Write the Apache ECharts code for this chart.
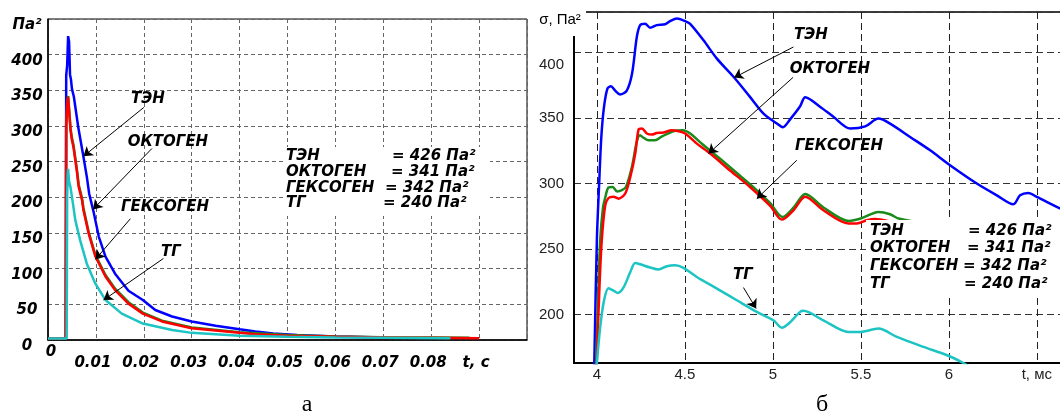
<!DOCTYPE html>
<html>
<head>
<meta charset="utf-8">
<title>σ(t)</title>
<script src="https://cdn.jsdelivr.net/npm/echarts@6.0.0/dist/echarts.min.js"></script>
<style>
  html, body { margin: 0; padding: 0; background: #fff; }
  #chart { width: 1060px; height: 416px; }
</style>
</head>
<body>
<div id="chart"></div>
<script>
// ---- панель "а": t, с / Па² ----
const tenA = [[0,2],[0.0037,2],[0.0038,371],[0.004,385],[0.0042,426],[0.0044,418],[0.0046,372],[0.0048,365],[0.005,352],[0.0054,341],[0.0063,299],[0.0074,257],[0.0081,229],[0.0086,205],[0.0095,180],[0.0106,145],[0.012,117],[0.014,93],[0.0168,69],[0.0198,56],[0.0224,42],[0.0259,33],[0.03,26],[0.035,20],[0.04,15],[0.0433,12],[0.047,9],[0.052,7],[0.06,5],[0.068,4]];
const oktogenA = [[0,2],[0.0037,2],[0.0038,300],[0.004,330],[0.0042,341],[0.0044,322],[0.0047,294],[0.005,280],[0.0053,271],[0.006,238],[0.0064,215],[0.0071,196],[0.0074,182],[0.0085,149],[0.0099,117],[0.012,89],[0.014,70],[0.0168,51],[0.0198,37],[0.0238,26],[0.03,16.5],[0.04,10],[0.0433,8],[0.05,6],[0.06,4.5],[0.07,3.5],[0.08,3],[0.09,2.5]];
const geksogenA = [[0,2],[0.0037,2],[0.0038,302],[0.004,332],[0.0042,342],[0.0044,324],[0.0047,297],[0.005,283],[0.0053,274],[0.006,241],[0.0064,218],[0.0071,199],[0.0074,185],[0.0085,151],[0.0099,119],[0.012,91],[0.014,72],[0.0168,53],[0.0198,38.5],[0.0238,27],[0.03,17.5],[0.04,11],[0.05,7],[0.06,5],[0.07,4],[0.08,3.5],[0.088,3]];
const tgA = [[0,2],[0.0039,2],[0.004,200],[0.0041,232],[0.0042,240],[0.0044,222],[0.0047,214],[0.0053,187],[0.0057,168],[0.0067,140],[0.0081,107],[0.0099,79],[0.012,56],[0.0154,37],[0.0198,23],[0.0259,14],[0.03,10],[0.04,6],[0.05,4.5],[0.06,3.5],[0.07,3],[0.084,2.5]];
const xLabelsA = ['0','0.01','0.02','0.03','0.04','0.05','0.06','0.07','0.08','t, с',''];
const yLabelsA = ['0','50','100','150','200','250','300','350','400','Па²'];

// ---- панель "б": t, мс / σ, Па² ----
const tenB = [[3.985,160],[4.0,257],[4.013,300],[4.025,335],[4.04,358],[4.06,372.5],[4.08,374.3],[4.104,371],[4.132,368],[4.17,371],[4.2,384],[4.227,412],[4.246,421],[4.274,422],[4.303,419],[4.34,421],[4.388,421.6],[4.416,424],[4.455,426],[4.502,424],[4.53,422],[4.606,409.4],[4.682,395.4],[4.78,381],[4.871,366],[4.947,353.4],[5.023,345.8],[5.057,343],[5.098,349],[5.155,359],[5.184,366],[5.27,358.5],[5.344,351],[5.44,342],[5.525,343.7],[5.6,349.6],[5.666,345.8],[5.78,335.6],[5.894,325.4],[6.007,314],[6.159,300],[6.273,291],[6.367,284.2],[6.405,291],[6.452,292.8],[6.5,289.8],[6.632,281],[6.7,277]];
const oktogenB = [[3.998,160],[4.015,222],[4.028,257],[4.047,283],[4.066,289],[4.094,290],[4.123,288.5],[4.161,292.4],[4.19,305],[4.218,323],[4.237,341.2],[4.256,342],[4.284,338.2],[4.313,337.4],[4.34,338.6],[4.378,339],[4.426,340.7],[4.464,340],[4.502,338.2],[4.568,330.5],[4.644,322.9],[4.757,310],[4.87,297.4],[4.985,283],[5.051,272.5],[5.117,279.6],[5.184,290],[5.287,279.6],[5.43,269.5],[5.477,269.5],[5.534,272],[5.58,273],[5.7,270],[5.9,266],[6.2,262],[6.5,259],[6.7,257]];
const geksogenB = [[3.995,160],[4.01,225],[4.019,257],[4.035,282],[4.047,289],[4.066,297],[4.09,297.4],[4.115,294],[4.142,295],[4.165,297.4],[4.199,312.7],[4.227,332],[4.245,336.9],[4.265,335],[4.293,333],[4.33,333],[4.37,336],[4.435,340],[4.49,340.7],[4.53,338.2],[4.6,330],[4.7,319],[4.8,307.5],[4.9,296],[4.985,285],[5.055,274.5],[5.12,282],[5.184,292],[5.29,281.5],[5.43,271.5],[5.5,273.3],[5.6,278.3],[5.666,276.6],[5.714,273.3],[5.9,269],[6.2,265],[6.5,263],[6.7,261]];
const tgB = [[3.998,160],[4.019,190.5],[4.041,211],[4.066,220],[4.09,218.6],[4.117,216.5],[4.151,220.6],[4.19,232.5],[4.218,239.4],[4.246,238.4],[4.303,235.9],[4.35,234.4],[4.398,236.9],[4.445,237.6],[4.492,235.6],[4.568,228.7],[4.682,219.8],[4.795,210.9],[4.909,202],[5.003,195.6],[5.051,190],[5.089,193],[5.155,202],[5.174,202.8],[5.287,195.6],[5.43,186.7],[5.496,186.7],[5.6,189.3],[5.705,182.9],[5.856,175.3],[5.99,168.9],[6.083,163],[6.12,160]];
const xTicksB = [4, 4.5, 5, 5.5, 6, 6.5];
const xLabelsB = ['4', '4.5', '5', '5.5', '6', 't, мс'];

// подписи и стрелки (начало -> конец, в координатах данных)
const names = ['ТЭН', 'ОКТОГЕН', 'ГЕКСОГЕН', 'ТГ'];
const peaks = ['= 426 Па²', '= 341 Па²', '= 342 Па²', '= 240 Па²'];
const arrowsA = [[[0.02,326],[0.0074,257.5]], [[0.0217,268.5],[0.0094,183.1]], [[0.0172,170],[0.0099,113]], [[0.0241,114.3],[0.0116,56]]];
const arrowsB = [[[5.117,404.3],[4.78,380.9]], [[5.115,381.1],[4.634,322.9]], [[5.136,317.8],[4.909,288.5]], [[4.833,220.6],[4.905,204.6]]];

const BI = 'italic bold 15px "DejaVu Sans"';
// тот же шрифт для подписей осей (там не работает сокращённая запись font)
const biStyle = { fontStyle: 'italic', fontWeight: 'bold', fontSize: 15, fontFamily: 'DejaVu Sans', color: '#000' };
const colors = { ten: '#0000ff', okt: '#ff0000', gek: '#1a8a1a', tg: '#1cc4c4' };

function line(name, data, color, idx, smooth) {
    return {
        type: 'line', name: name, data: data,
        xAxisIndex: idx, yAxisIndex: idx,
        symbol: 'none', smooth: smooth || false,
        clip: true, animation: false, silent: true,
        lineStyle: { color: color, width: 2.5 },
        itemStyle: { color: color }
    };
}

function arrows(list) {
    return {
        silent: true, animation: false,
        symbol: ['none', 'arrow'], symbolSize: 9,
        label: { show: false },
        lineStyle: { color: '#000', width: 1, type: 'solid' },
        data: list.map(a => [{ coord: a[0] }, { coord: a[1] }])
    };
}

function txt(text, x, y, font, align) {
    return {
        type: 'text', z: 60, silent: true,
        style: { text: text, x: x, y: y, font: font, fill: '#000',
            align: align || 'center', verticalAlign: 'middle',
            textAlign: align || 'center', textVerticalAlign: 'middle' }
    };
}

let myChart = echarts.init(document.getElementById('chart'));

let sA = line('ТЭН', tenA, colors.ten, 0);
sA.markLine = arrows(arrowsA);
let sB = line('ТЭН', tenB, colors.ten, 1, 0.3);
sB.markLine = arrows(arrowsB);

const yA = [155.7, 172.3, 187.7, 203.3];
const vxA = [392, 391, 385, 383];
const yB = [230.7, 248.3, 266, 284];
const vxB = [968, 967, 963, 964];

let graphics = [
    { type: 'rect', z: 50, silent: true, shape: { x: 284, y: 147, width: 206, height: 69 }, style: { fill: '#fff' } },
    { type: 'rect', z: 50, silent: true, shape: { x: 866, y: 220, width: 194, height: 75 }, style: { fill: '#fff' } },
    { type: 'rect', z: 50, silent: true, shape: { x: 532, y: 0, width: 54, height: 36 }, style: { fill: '#fff' } },
    txt('σ, Па²', 560, 20, '15px "Liberation Sans"'),
    txt('а', 307, 405, '24px "Liberation Serif"'),
    txt('б', 822, 405, '24px "Liberation Serif"'),
    // панель а — подписи у стрелок
    txt('ТЭН', 148, 99, BI),
    txt('ОКТОГЕН', 168, 142, BI),
    txt('ГЕКСОГЕН', 165, 207, BI),
    txt('ТГ', 171, 252, BI),
    // панель б — подписи у стрелок
    txt('ТЭН', 811, 35, BI),
    txt('ОКТОГЕН', 830, 69, BI),
    txt('ГЕКСОГЕН', 839, 146, BI),
    txt('ТГ', 743, 275, BI)
];
names.forEach((n, i) => {
    graphics.push(txt(n, 286, yA[i], BI, 'left'));
    graphics.push(txt(peaks[i], vxA[i], yA[i], BI, 'left'));
    graphics.push(txt(n, 870, yB[i], BI, 'left'));
    graphics.push(txt(peaks[i], vxB[i], yB[i], BI, 'left'));
});

let option = {
    backgroundColor: '#fff',
    animation: false,
    grid: [
        { left: 48, top: 19, width: 479, height: 321, show: true, borderColor: '#000', borderWidth: 1, outerBoundsMode: 'none' },
        { left: 574, top: 12, width: 498, height: 351, show: true, borderColor: '#000', borderWidth: 1.5, outerBoundsMode: 'none' }
    ],
    xAxis: [
        {
            type: 'value', gridIndex: 0, min: 0, max: 0.1, interval: 0.01,
            axisLine: { lineStyle: { color: '#000', width: 1.5 } },
            axisTick: { show: false },
            splitLine: { show: true, lineStyle: { color: '#666', type: [4, 3], width: 1 } },
            axisLabel: Object.assign({}, biStyle, {
                margin: 5,
                formatter: v => {
                    const i = Math.round(v / 0.01);
                    return i === 0 ? '{z|0}' : '{p|' + (xLabelsA[i] || '') + '}';
                },
                rich: {
                    z: Object.assign({}, biStyle, { padding: [0, 0, 0, 6] }),
                    p: Object.assign({}, biStyle, { padding: [11, 6, 0, 0] })
                }
            })
        },
        {
            type: 'value', gridIndex: 1, min: 3.87, max: 6.7, minInterval: 0.5, maxInterval: 0.5,
            axisLine: { lineStyle: { color: '#000', width: 2 } },
            axisTick: { show: false },
            splitLine: { show: true, lineStyle: { color: '#222', type: [7, 4], width: 1 } },
            axisLabel: {
                margin: 4, color: '#222', fontSize: 15, fontFamily: 'Liberation Sans',
                formatter: v => {
                    const i = xTicksB.findIndex(t => Math.abs(t - v) < 1e-6);
                    return i < 0 ? '' : xLabelsB[i];
                }
            }
        }
    ],
    yAxis: [
        {
            type: 'value', gridIndex: 0, min: 0, max: 450, interval: 50,
            axisLine: { show: true, lineStyle: { color: '#000', width: 1.5 } },
            axisTick: { show: false },
            splitLine: { show: true, lineStyle: { color: '#666', type: [4, 3], width: 1 } },
            axisLabel: Object.assign({}, biStyle, {
                margin: 21, align: 'center', verticalAlign: 'middle',
                formatter: v => '{a|' + (yLabelsA[Math.round(v / 50)] || '') + '}',
                rich: { a: Object.assign({}, biStyle, { padding: [12, 0, 0, 0] }) }
            })
        },
        {
            type: 'value', gridIndex: 1, min: 163, max: 431, minInterval: 50, maxInterval: 50,
            axisLine: { show: true, lineStyle: { color: '#000', width: 2 } },
            axisTick: { show: false },
            splitLine: { show: true, lineStyle: { color: '#333', type: [7, 4], width: 1 } },
            axisLabel: {
                margin: 10, color: '#222', fontSize: 15, fontFamily: 'Liberation Sans',
                formatter: v => {
                    if (Math.abs(v % 50) > 1e-6) return '';
                    return v === 400 ? '{d|400}' : String(v);
                },
                rich: { d: { fontSize: 15, fontFamily: 'Liberation Sans', color: '#222', padding: [24, 0, 0, 0] } }
            }
        }
    ],
    series: [
        sA,
        line('ГЕКСОГЕН', geksogenA, colors.gek, 0),
        line('ОКТОГЕН', oktogenA, colors.okt, 0),
        line('ТГ', tgA, colors.tg, 0),
        sB,
        line('ГЕКСОГЕН', geksogenB, colors.gek, 1, 0.3),
        line('ОКТОГЕН', oktogenB, colors.okt, 1, 0.3),
        line('ТГ', tgB, colors.tg, 1, 0.3)
    ],
    graphic: graphics
};
myChart.setOption(option);
</script>
</body>
</html>
